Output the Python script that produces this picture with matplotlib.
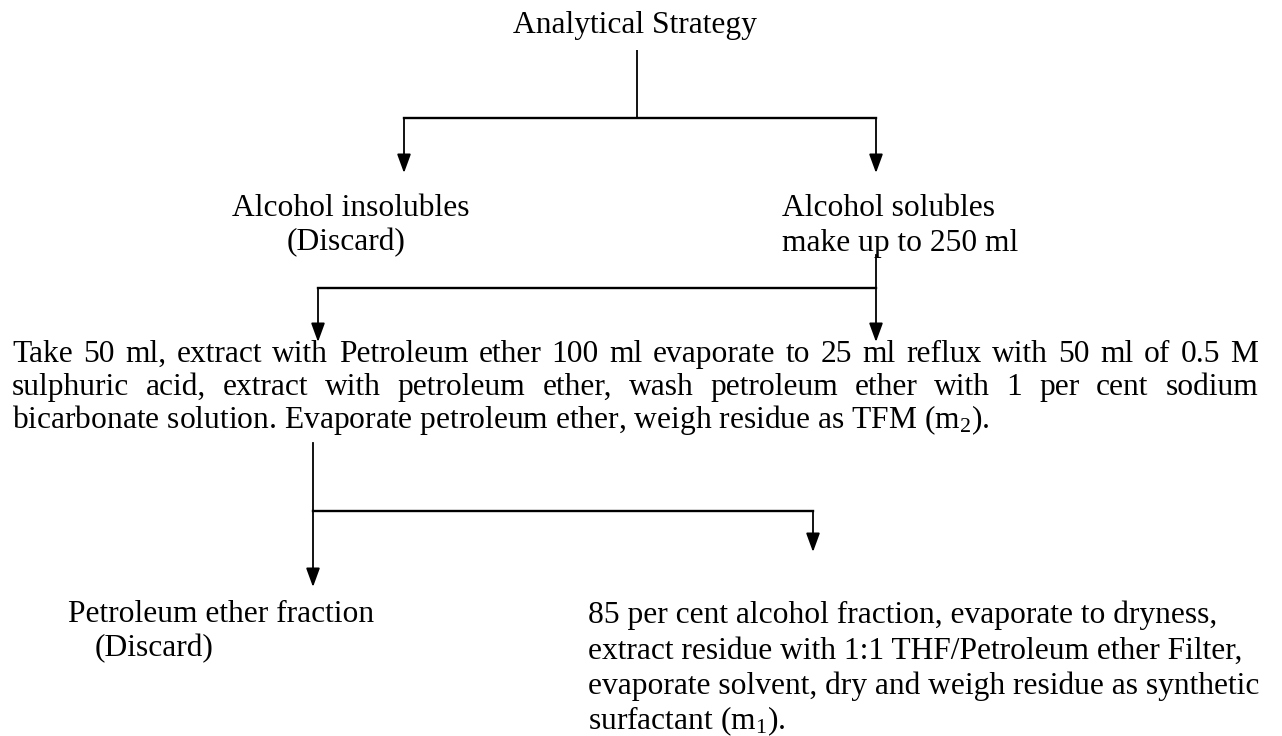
import matplotlib
matplotlib.use('Agg')
import matplotlib.pyplot as plt

# font: Times-like serif
plt.rcParams['font.family'] = ['Liberation Serif', 'DejaVu Serif']
plt.rcParams['mathtext.fontset'] = 'custom'
plt.rcParams['mathtext.rm'] = 'Liberation Serif'
fts = 22.7

# texts of the flow chart
title = 'Analytical Strategy'
split_left = ['Alcohol insolubles', '(Discard)']
split_right = ['Alcohol solubles', 'make up to 250 ml']
step_lines = ['Take 50 ml, extract with Petroleum ether 100 ml evaporate to 25 ml reflux with 50 ml of 0.5 M',
              'sulphuric acid, extract with petroleum ether, wash petroleum ether with 1 per cent sodium',
              r'bicarbonate solution. Evaporate petroleum ether, weigh residue as TFM (m$\mathregular{_2}$).']
final_left = ['Petroleum ether fraction', '(Discard)']
final_right = ['85 per cent alcohol fraction, evaporate to dryness,',
               'extract residue with 1:1 THF/Petroleum ether Filter,',
               'evaporate solvent, dry and weigh residue as synthetic',
               r'surfactant (m$\mathregular{_1}$).']

# layout in pixels (x, y baseline)
W, H = 1282, 736
fig = plt.figure(figsize=(W / 100, H / 100), dpi=100)
ax = fig.add_axes([0, 0, 1, 1])
ax.set_xlim(0, W)
ax.set_ylim(H, 0)
ax.axis('off')
renderer = fig.canvas.get_renderer()

lw = 1.3


def arrow(x, y0, y1):
    ax.annotate('', xy=(x, y1), xytext=(x, y0),
                arrowprops=dict(arrowstyle='-|>,head_length=1.15,head_width=0.42',
                                mutation_scale=10, lw=lw, color='black',
                                shrinkA=0, shrinkB=0))


def fork(stem_x, stem_y0, bar_y, xs, tips):
    """stem down to a bar, then arrows down to each branch"""
    ax.plot([stem_x, stem_x], [stem_y0, bar_y], color='black', lw=lw, solid_capstyle='butt')
    ax.plot([min(xs + [stem_x]), max(xs + [stem_x])], [bar_y, bar_y], color='black', lw=lw + 0.4,
            solid_capstyle='projecting')
    for x, t in zip(xs, tips):
        arrow(x, bar_y, t)


def justified(line, x0, x1, y):
    words = line.split(' ')
    texts = [ax.text(0, y, w, fontsize=fts, ha='left', va='baseline') for w in words]
    widths = [t.get_window_extent(renderer).width for t in texts]
    gap = (x1 - x0 - sum(widths)) / (len(words) - 1)
    x = x0
    for t, w in zip(texts, widths):
        t.set_x(x)
        x += w + gap


# title
ax.text(635, 33, title, fontsize=fts, ha='center', va='baseline')
fork(637, 50, 118, [404, 876], [173, 173])

# first split
ax.text(351, 216, split_left[0], fontsize=fts, ha='center', va='baseline')
ax.text(346, 250, split_left[1], fontsize=fts, ha='center', va='baseline')
ax.text(782, 216, split_right[0], fontsize=fts, ha='left', va='baseline')
ax.text(782, 251, split_right[1], fontsize=fts, ha='left', va='baseline')

# second split
ax.plot([876, 876], [255, 288], color='black', lw=lw)
fork(876, 288, 288, [318, 876], [342, 342])

# paragraph
step_y = [362, 395, 428]
justified(step_lines[0], 12, 1258, step_y[0])
justified(step_lines[1], 12, 1258, step_y[1])
ax.text(12, step_y[2], step_lines[2], fontsize=fts, ha='left', va='baseline')

# third split
ax.plot([313, 313], [443, 511], color='black', lw=lw)
fork(313, 511, 511, [313, 813], [587, 552])

# final fractions
ax.text(68, 622, final_left[0], fontsize=fts, ha='left', va='baseline')
ax.text(95, 656, final_left[1], fontsize=fts, ha='left', va='baseline')
for i, s in enumerate(final_right):
    ax.text(588, 623 + 35.5 * i, s, fontsize=fts, ha='left', va='baseline')

fig.savefig('out.png', dpi=100)
plt.close()
